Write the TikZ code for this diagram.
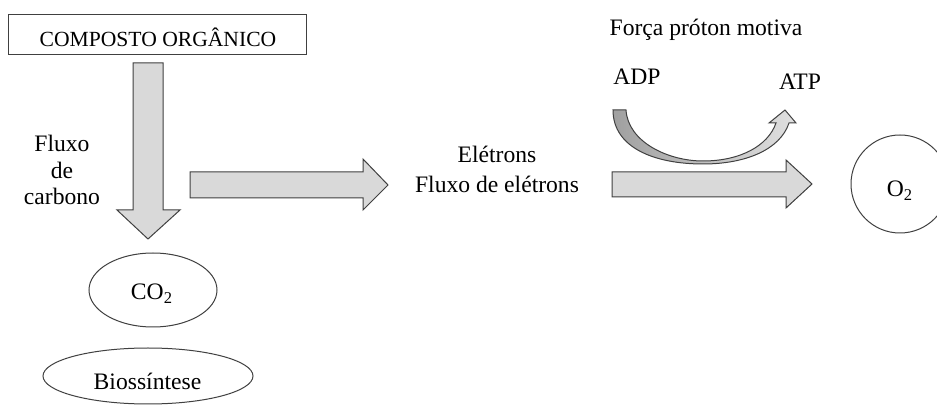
\documentclass[tikz,border=0pt]{standalone}
\usepackage{fontspec}
\setmainfont{Liberation Serif}
\usetikzlibrary{shapes.geometric}
\definecolor{arrowfill}{HTML}{D9D9D9}
\definecolor{edge}{HTML}{404040}
\definecolor{darkarc}{HTML}{A0A0A0}
\definecolor{lightarc}{HTML}{E0E0E0}
\tikzset{
  blockarrow/.style={draw=edge, line width=0.5pt, fill=arrowfill, line join=miter},
  lbl/.style={font=\fontsize{11.8pt}{14pt}\selectfont, inner sep=0pt, anchor=base},
  shapeline/.style={draw=edge, line width=0.5pt},
}
\begin{document}
\begin{tikzpicture}[x=0.5pt,y=-0.5pt]
\clip (0,0) rectangle (937,405);
\fill[white] (0,0) rectangle (937,405);
% box
\node[shapeline, rectangle, minimum width=149pt, minimum height=20pt, inner sep=0pt] (box) at (157,35) {};
\node[lbl, font=\fontsize{10.8pt}{13pt}\selectfont] (boxt) at (158,47) {COMPOSTO ORGÂNICO};
% down arrow
\draw[blockarrow] (133,63) -- (163,63) -- (163,210) -- (180,210) -- (148,239) -- (117,210) -- (133,210) -- cycle;
\node[lbl] (fl1) at (62,152) {Fluxo};
\node[lbl] (fl2) at (62,179) {de};
\node[lbl] (fl3) at (62,205) {carbono};
% right arrow 1
\draw[blockarrow] (190,172) -- (363,172) -- (363,159) -- (388,185) -- (363,210) -- (363,198) -- (190,198) -- cycle;
\node[lbl] (el) at (497,163) {Elétrons};
\node[lbl] (fe) at (497,193) {Fluxo de elétrons};
% right arrow 2
\draw[blockarrow] (612,172) -- (786,172) -- (786,160) -- (812,184) -- (786,208) -- (786,197) -- (612,197) -- cycle;
% curved arrow
\shade[left color=darkarc, right color=lightarc, draw=edge, line width=0.5pt]
  (613,110) -- (626,110) .. controls (628,142) and (668,161) .. (703,161)
  .. controls (740,161) and (768,146) .. (776,123) -- (769,123) -- (785,110) -- (796,123) -- (789,123)
  .. controls (780,150) and (745,164) .. (703,164)
  .. controls (655,164) and (613,148) .. (613,110) -- cycle;
\node[lbl] (adp) at (637,85) {ADP};
\node[lbl] (atp) at (800,90) {ATP};
\node[lbl] (fpm) at (706,36) {Força próton motiva};
% O2
\node[shapeline, circle, minimum size=49pt, inner sep=0pt] (o2) at (900,184) {};
\node[lbl] (o2t) at (900,197) {O\textsubscript{2}};
% CO2
\node[shapeline, ellipse, minimum width=64pt, minimum height=37pt, inner sep=0pt] (co2) at (153,290) {};
\node[lbl] (co2t) at (152,300) {CO\textsubscript{2}};
% Biossintese
\node[shapeline, ellipse, minimum width=105pt, minimum height=28pt, inner sep=0pt] (bio) at (148,376) {};
\node[lbl] (biot) at (147.5,390) {Biossíntese};
\end{tikzpicture}
\end{document}
